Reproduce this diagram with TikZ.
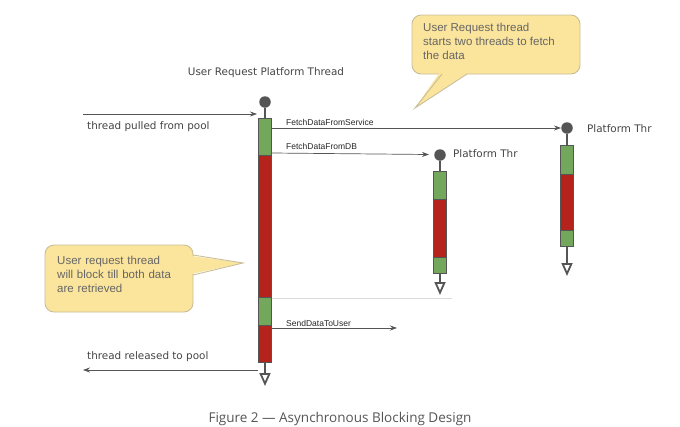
\documentclass[tikz,border=0pt]{standalone}
\usepackage{fontspec}
\setmainfont{Liberation Sans}
\newfontfamily\handfont{DejaVu Sans}
\newfontfamily\capfont{Open Sans}
\usetikzlibrary{arrows.meta}
\definecolor{gbar}{HTML}{73A75C}
\definecolor{rbar}{HTML}{B5241C}
\definecolor{ln}{HTML}{555555}
\definecolor{handtext}{HTML}{444444}
\definecolor{callfill}{HTML}{FBE49C}
\definecolor{calldraw}{HTML}{C9BE98}
\definecolor{calltext}{HTML}{666666}
\definecolor{sepline}{HTML}{DADADA}
\begin{document}
\begin{tikzpicture}[x=1pt,y=-1pt,
  seg/.style={rectangle, draw=ln, line width=1pt, minimum width=13pt, inner sep=0pt, anchor=north},
  gseg/.style={seg, fill=gbar},
  rseg/.style={seg, fill=rbar},
  dot/.style={circle, fill=ln, draw=none, minimum size=11.5pt, inner sep=0pt},
  stem/.style={draw=ln, line width=2pt},
  endstem/.style={draw=ln, line width=2pt, -{Triangle[open, length=13pt, width=11pt, line width=1.8pt]}},
  msg/.style={draw=ln, line width=0.7pt, -{Stealth[length=7pt, width=5pt]}},
  msglabel/.style={font=\fontsize{8.5}{10}\selectfont, text=black!85, anchor=base west, inner sep=0pt},
  hand/.style={font=\handfont\fontsize{10.4}{12}\selectfont, text=handtext, inner sep=0pt},
  callbox/.style={fill=callfill, draw=calldraw, line width=0.9pt},
  calltxt/.style={font=\fontsize{11.5}{14}\selectfont, text=calltext, align=left, inner sep=0pt, anchor=north west}
]
\useasboundingbox (0,0) rectangle (680,426);

% ---- callout 1
\draw[callbox, rounded corners=9pt] (412,15) rectangle (580,74);
\fill[callfill] (440,72) -- (415,108) -- (469,72) -- cycle;
\draw[calldraw, line width=0.9pt] (442,74) -- (415,108) -- (467,74);
\node[calltxt] (c1) at (423,23) {User Request thread\\starts two threads to fetch\\the data};

% ---- callout 2
\draw[callbox, rounded corners=9pt] (45,245) rectangle (193,312);
\fill[callfill] (191,256) -- (243,263) -- (191,274) -- cycle;
\draw[calldraw, line width=0.9pt] (193,255) -- (243,263) -- (193,275);
\node[calltxt, text width=130pt] (c2) at (57,256) {User request thread\\will block till both data\\are retrieved};

% ---- main thread
\node[hand] (mtitle) at (266,73) {User Request Platform Thread};
\node[dot] (mc) at (265,102) {};
\node[gseg, minimum height=37pt] (m1) at (265,118) {};
\node[rseg, minimum height=142pt] (m2) at (265,155) {};
\node[gseg, minimum height=28pt] (m3) at (265,297) {};
\node[rseg, minimum height=37pt] (m4) at (265,325) {};
\draw[stem] (mc) -- (m1.north);
\coordinate (mend) at (265,386);
\draw[endstem] (m4.south) -- (mend);

% ---- DB thread
\node[hand, anchor=west] (dtitle) at (453,154) {Platform Thr};
\node[dot] (dc) at (440,155) {};
\node[gseg, minimum height=28pt] (d1) at (440,171) {};
\node[rseg, minimum height=58pt] (d2) at (440,199) {};
\node[gseg, minimum height=16pt] (d3) at (440,257) {};
\draw[stem] (dc) -- (d1.north);
\coordinate (dend) at (440,295);
\draw[endstem] (d3.south) -- (dend);

% ---- Service thread
\node[hand, anchor=west] (stitle) at (587,129) {Platform Thr};
\node[dot] (sc) at (567,128) {};
\node[gseg, minimum height=29pt] (s1) at (567,145) {};
\node[rseg, minimum height=56pt] (s2) at (567,174) {};
\node[gseg, minimum height=16pt] (s3) at (567,230) {};
\draw[stem] (sc) -- (s1.north);
\coordinate (send) at (567,276);
\draw[endstem] (s3.south) -- (send);

% ---- messages
\coordinate (pullstart) at (83,114);
\coordinate (pullend) at (257,114);
\draw[msg] (pullstart) -- (pullend);
\node[hand, anchor=base west] (pulllab) at (87,129) {thread pulled from pool};

\coordinate (fsstart) at (272,128);
\coordinate (fsend) at (561,128);
\draw[msg] (fsstart) -- (fsend);
\node[msglabel] (fslab) at (286,125) {FetchDataFromService};

\coordinate (fdstart) at (272,153);
\coordinate (fdend) at (429,154.5);
\draw[msg] (fdstart) -- (fdend);
\node[msglabel] (fdlab) at (286,149) {FetchDataFromDB};

\coordinate (sepstart) at (272,298);
\coordinate (sepend) at (452,298);
\draw[sepline, line width=0.8pt] (sepstart) -- (sepend);

\coordinate (sdstart) at (272,328);
\coordinate (sdend) at (397,328);
\draw[msg] (sdstart) -- (sdend);
\node[msglabel] (sdlab) at (286,326.5) {SendDataToUser};

\coordinate (relstart) at (258,370);
\coordinate (relend) at (83,370);
\draw[msg] (relstart) -- (relend);
\node[hand, anchor=base west] (rellab) at (87,359) {thread released to pool};

% ---- caption
\node[font=\capfont\fontsize{13.5}{15}\selectfont, text=ln, inner sep=0pt, anchor=base] (cap) at (340,422) {Figure 2 — Asynchronous Blocking Design};
\end{tikzpicture}
\end{document}
